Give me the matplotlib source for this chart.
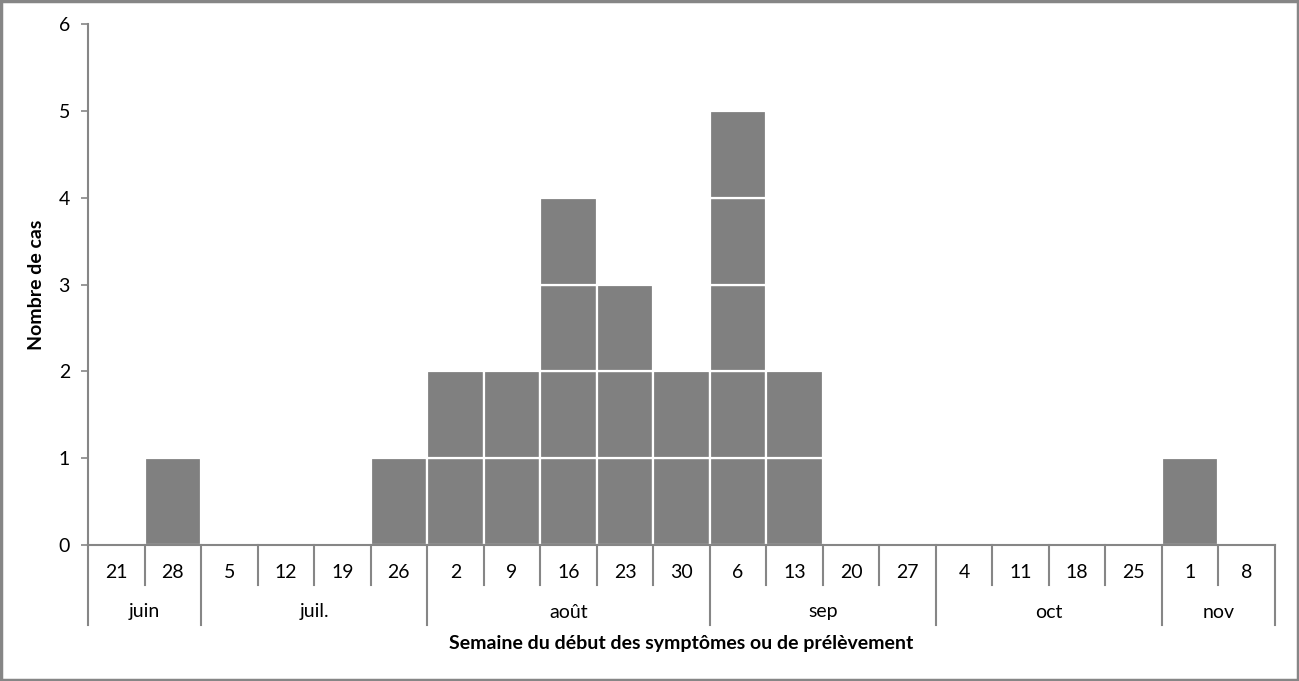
import matplotlib.pyplot as plt
from matplotlib.transforms import blended_transform_factory

plt.rcParams['font.family'] = ['Lato', 'DejaVu Sans']

weeks = ['21', '28', '5', '12', '19', '26', '2', '9', '16', '23', '30',
         '6', '13', '20', '27', '4', '11', '18', '25', '1', '8']
cases = [0, 1, 0, 0, 0, 1, 2, 2, 4, 3, 2, 5, 2, 0, 0, 0, 0, 0, 0, 1, 0]
months = ['juin', 'juil.', 'août', 'sep', 'oct', 'nov']
weeks_per_month = [2, 4, 5, 4, 4, 2]

grey = '#868686'
fs = 14

fig = plt.figure(figsize=(12.99, 6.81), dpi=100)
ax = fig.add_axes([88 / 1299, 136 / 681, 1187 / 1299, 521 / 681])

# one square per case
for i, n in enumerate(cases):
    for k in range(n):
        ax.bar(i, 1, bottom=k, width=1, color='#808080', edgecolor='white', linewidth=1.6)

ax.set_xlim(-0.5, len(weeks) - 0.5)
ax.set_ylim(0, 6)
ax.set_yticks(range(7))
ax.tick_params(axis='y', direction='out', length=5, width=1.2, color=grey, labelsize=fs, pad=8)
ax.set_xticks([])
for s in ['top', 'right']:
    ax.spines[s].set_visible(False)
for s in ['left', 'bottom']:
    ax.spines[s].set_color(grey)
    ax.spines[s].set_linewidth(1.5)

# two level category axis
tr = blended_transform_factory(ax.transData, ax.transAxes)
px = 1 / 521
bounds = [0]
for m in weeks_per_month:
    bounds.append(bounds[-1] + m)
for b in range(len(weeks) + 1):
    depth = 80 if b in bounds else 40
    ax.plot([b - 0.5, b - 0.5], [0, -depth * px], transform=tr, color=grey, lw=1.5, clip_on=False)
for i, w in enumerate(weeks):
    ax.text(i, -27 * px, w, transform=tr, ha='center', va='center', fontsize=fs)
for j, m in enumerate(months):
    mid = (bounds[j] + bounds[j + 1]) / 2 - 0.5
    ax.text(mid, -67 * px, m, transform=tr, ha='center', va='center', fontsize=fs)

ax.text(0.5, -98 * px, 'Semaine du début des symptômes ou de prélèvement', transform=ax.transAxes,
        ha='center', va='center', fontsize=fs, fontweight='bold')
ax.set_ylabel('Nombre de cas', fontsize=fs, fontweight='bold', labelpad=10)

# frame around the figure
fig.patches.append(plt.Rectangle((0.001, 0.002), 0.998, 0.996, transform=fig.transFigure,
                                 fill=False, edgecolor=grey, linewidth=2.5))

plt.savefig('out.png', dpi=100)
